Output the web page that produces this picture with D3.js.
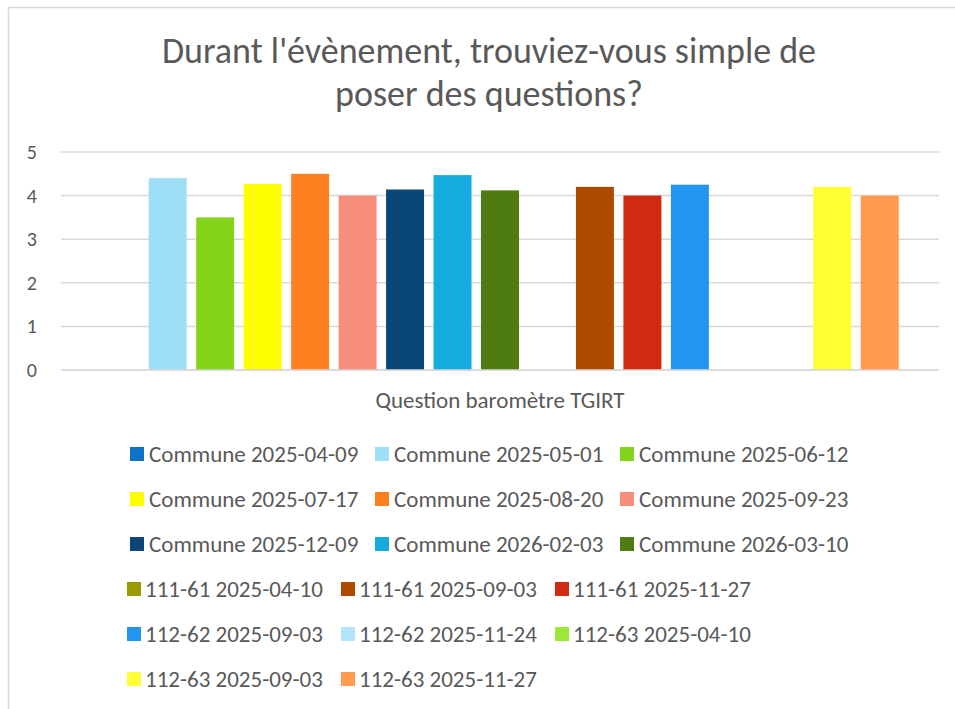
<!DOCTYPE html>
<html>
<head>
<meta charset="utf-8">
<script src="https://cdn.jsdelivr.net/npm/d3@7"></script>
<style>
  body { margin: 0; background: #fff; }
  svg { display: block; font-family: Carlito, Calibri, Lato, sans-serif; }
  .grid line { stroke: #d9d9d9; stroke-width: 1.5; }
  .txt { fill: #595959; }
</style>
</head>
<body>
<svg width="955" height="709"></svg>
<script>
(function (d3) {
    'use strict';

    const TITLE_LINES = ["Durant l'évènement, trouviez-vous simple de", 'poser des questions?'];
    const CATEGORY = 'Question baromètre TGIRT';
    const Y_TICKS = [0, 1, 2, 3, 4, 5];

    const SERIES_NAMES = [
      'Commune 2025-04-09', 'Commune 2025-05-01', 'Commune 2025-06-12',
      'Commune 2025-07-17', 'Commune 2025-08-20', 'Commune 2025-09-23',
      'Commune 2025-12-09', 'Commune 2026-02-03', 'Commune 2026-03-10',
      '111-61 2025-04-10', '111-61 2025-09-03', '111-61 2025-11-27',
      '112-62 2025-09-03', '112-62 2025-11-24', '112-63 2025-04-10',
      '112-63 2025-09-03', '112-63 2025-11-27'
    ];
    // null = pas de réponse pour cette session
    const SERIES_VALUES = [
      null, 4.4, 3.5,
      4.27, 4.5, 4.0,
      4.14, 4.47, 4.12,
      null, 4.2, 4.0,
      4.25, null, null,
      4.2, 4.0
    ];
    const SERIES_COLORS = [
      '#0e72c6', '#9edff7', '#84d51a',
      '#ffff00', '#ff8021', '#f68e7b',
      '#0a4677', '#15abdf', '#4e7c10',
      '#9b9b00', '#ae4a00', '#d02a10',
      '#2196f0', '#b3e5f8', '#9ce838',
      '#ffff33', '#ff9a4e'
    ];

    const PLOT = { left: 61, right: 939, top: 152, bottom: 370 };

    const svg = d3.select('svg');

    // cadre du graphique (sort à droite et en bas)
    svg.append('rect')
      .attr('x', 8.5).attr('y', 7.5)
      .attr('width', 1000).attr('height', 800)
      .attr('fill', 'none')
      .attr('stroke', '#d9d9d9')
      .attr('stroke-width', 1.5);

    // titre
    svg.append('g').selectAll('text')
      .data(TITLE_LINES)
      .enter()
      .append('text')
      .attr('class', 'txt')
      .attr('x', 489)
      .attr('y', (d, i) => 63 + i * 43)
      .attr('text-anchor', 'middle')
      .attr('font-size', 36)
      .text(d => d);

    const y = d3.scaleLinear()
      .domain([0, 5])
      .range([PLOT.bottom, PLOT.top]);

    const x = d3.scaleBand()
      .domain(SERIES_NAMES)
      .range([PLOT.left, PLOT.right])
      .paddingInner(0.2)
      .paddingOuter(0.848);

    // grille horizontale
    svg.append('g')
      .attr('class', 'grid')
      .selectAll('line')
      .data(Y_TICKS)
      .enter()
      .append('line')
      .attr('x1', PLOT.left)
      .attr('x2', PLOT.right)
      .attr('y1', d => y(d))
      .attr('y2', d => y(d));

    // étiquettes de l'axe Y
    svg.append('g').selectAll('text')
      .data(Y_TICKS)
      .enter()
      .append('text')
      .attr('class', 'txt')
      .attr('x', 37)
      .attr('y', d => y(d))
      .attr('dy', '0.35em')
      .attr('text-anchor', 'end')
      .attr('font-size', 20)
      .text(d => d);

    // barres
    const bars = SERIES_NAMES.map((name, i) => ({
      name,
      value: SERIES_VALUES[i],
      color: SERIES_COLORS[i]
    }));

    svg.append('g').selectAll('rect')
      .data(bars.filter(d => d.value !== null))
      .enter()
      .append('rect')
      .attr('x', d => x(d.name))
      .attr('width', x.bandwidth())
      .attr('y', d => y(d.value))
      .attr('height', d => y(0) - y(d.value))
      .attr('fill', d => d.color);

    // axe X redessiné par-dessus le pied des barres
    svg.append('line')
      .attr('x1', PLOT.left).attr('x2', PLOT.right)
      .attr('y1', y(0)).attr('y2', y(0))
      .attr('stroke', '#d9d9d9')
      .attr('stroke-width', 1.5);

    svg.append('text')
      .attr('class', 'txt')
      .attr('x', (PLOT.left + PLOT.right) / 2)
      .attr('y', 408)
      .attr('text-anchor', 'middle')
      .attr('font-size', 23)
      .text(CATEGORY);

    // légende : 3 colonnes, les lignes "Commune" sont plus larges
    const legendCol = row => (row < 3
      ? { x0: 130, step: 245 }
      : { x0: 127, step: 214 });

    const legendG = svg.append('g');
    const items = legendG.selectAll('g')
      .data(bars)
      .enter()
      .append('g')
      .attr('transform', (d, i) => {
        const row = Math.floor(i / 3);
        const col = i % 3;
        const c = legendCol(row);
        return `translate(${c.x0 + col * c.step}, ${454 + row * 45})`;
      });

    items.append('rect')
      .attr('x', 0)
      .attr('y', -7)
      .attr('width', 14)
      .attr('height', 14)
      .attr('fill', d => d.color);

    items.append('text')
      .attr('class', 'txt')
      .attr('x', d => (d.name.startsWith('Commune') ? 19 : 18))
      .attr('dy', '0.35em')
      .attr('font-size', 23)
      .text(d => d.name);

}(d3));
</script>
</body>
</html>
